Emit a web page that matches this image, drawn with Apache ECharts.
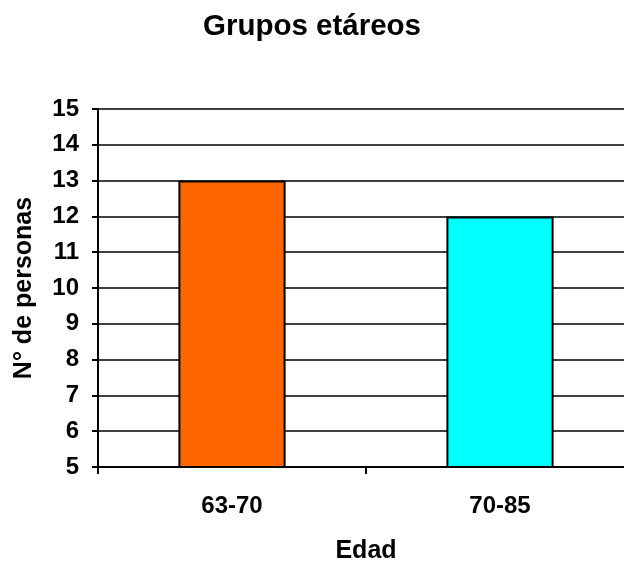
<!DOCTYPE html>
<html>
<head>
<meta charset="utf-8">
<script src="https://cdn.jsdelivr.net/npm/echarts@6/dist/echarts.min.js"></script>
<style>
html,body{margin:0;padding:0;background:#fff;}
#chart{width:624px;height:561px;}
</style>
</head>
<body>
<div id="chart"></div>
<script>
const categories = ['63-70', '70-85'];
const values = [13, 12];
const barColors = ['#FF6600', '#00FFFF'];
const yTicks = [5, 6, 7, 8, 9, 10, 11, 12, 13, 14, 15];

const FONT = '"Liberation Sans", Arial, sans-serif';
const chart = echarts.init(document.getElementById('chart'), null, {renderer: 'canvas'});
chart.setOption({
  animation: false,
  backgroundColor: '#ffffff',
  title: {
    text: 'Grupos etáreos',
    left: 'center',
    top: 12,
    padding: 0,
    textStyle: {fontFamily: FONT, fontWeight: 'bold', fontSize: 29.5, color: '#000'}
  },
  grid: {left: 98, right: -10, top: 109, bottom: 94, containLabel: false, outerBoundsMode: 'none'},
  xAxis: {
    type: 'category',
    data: categories,
    boundaryGap: true,
    name: 'Edad',
    nameLocation: 'middle',
    nameGap: 72,
    nameTextStyle: {fontFamily: FONT, fontWeight: 'bold', fontSize: 25, color: '#000'},
    axisLine: {lineStyle: {color: '#000', width: 2}},
    axisTick: {show: true, length: 7, lineStyle: {color: '#000', width: 2}},
    axisLabel: {fontFamily: FONT, fontWeight: 'bold', fontSize: 24, color: '#000', margin: 27},
    splitLine: {show: false}
  },
  yAxis: {
    type: 'value',
    min: yTicks[0],
    max: yTicks[yTicks.length - 1],
    interval: 1,
    name: 'N° de personas',
    nameLocation: 'middle',
    nameGap: 61,
    nameTextStyle: {fontFamily: FONT, fontWeight: 'bold', fontSize: 25, color: '#000'},
    axisLine: {show: true, lineStyle: {color: '#000', width: 2}},
    axisTick: {show: true, length: 6, lineStyle: {color: '#000', width: 2}},
    axisLabel: {fontFamily: FONT, fontWeight: 'bold', fontSize: 24, color: '#000', margin: 19},
    splitLine: {show: true, lineStyle: {color: '#000', width: 1.6}}
  },
  series: [{
    type: 'bar',
    barWidth: '40%',
    data: values.map((v, i) => ({
      value: v,
      itemStyle: {color: barColors[i], borderColor: '#000', borderWidth: 2}
    }))
  }]
});
</script>
</body>
</html>
